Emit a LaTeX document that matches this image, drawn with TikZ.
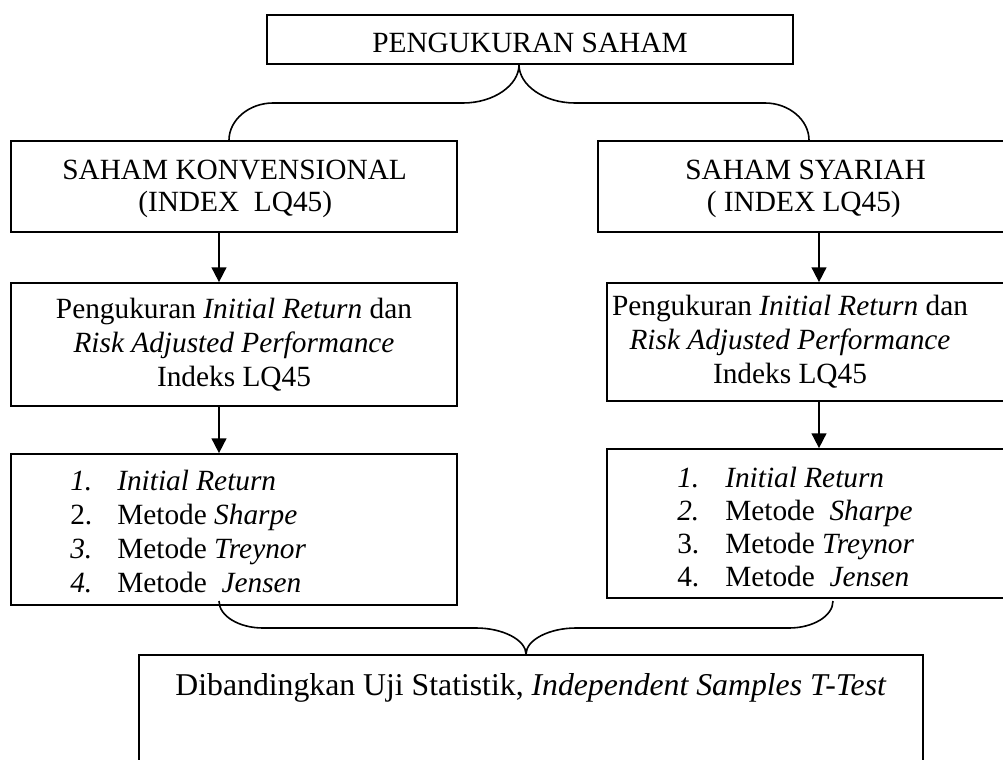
\documentclass[tikz,border=0pt]{standalone}
\usepackage{fontspec}
\setmainfont{Liberation Serif}
\usetikzlibrary{arrows.meta,fit}
\begin{document}
\begin{tikzpicture}[x=0.75pt,y=-0.75pt,
  box/.style={draw,line width=1.3pt,inner sep=0pt},
  txt/.style={font=\fontsize{22}{25.5}\selectfont,inner sep=0pt},
  bigtxt/.style={font=\fontsize{23.8}{27}\selectfont,inner sep=0pt},
  conn/.style={line width=1.2pt},
  arr/.style={line width=1.3pt,-{Triangle[width=11pt,length=11pt]}}]
\useasboundingbox (0,0) rectangle (1003,760);
\clip (0,0) rectangle (1003,760);
% boxes
\node[box,fit={(267,15)(793,64)}] (top) {};
\node[box,fit={(11,141)(457,232)}] (lb1) {};
\node[box,fit={(598,141)(1040,232)}] (rb1) {};
\node[box,fit={(11,283)(457,406)}] (lb2) {};
\node[box,fit={(607,283)(1040,401)}] (rb2) {};
\node[box,fit={(11,454)(457,605)}] (lb3) {};
\node[box,fit={(607,449)(1040,598)}] (rb3) {};
\node[box,fit={(139,655)(923,800)}] (bot) {};
% texts
\node[txt,anchor=base] (ttop) at (530,52) {PENGUKURAN SAHAM};
\node[txt,anchor=base west] (tl1a) at (62,179) {SAHAM KONVENSIONAL};
\node[txt,anchor=base west] (tl1b) at (138,211) {(INDEX\ \ LQ45)};
\node[txt,anchor=base east] (tr1a) at (926,179) {SAHAM SYARIAH};
\node[txt,anchor=base east] (tr1b) at (901,211) {( INDEX LQ45)};
\node[txt,anchor=base] (tl2a) at (234,318) {Pengukuran \textit{Initial Return} dan};
\node[txt,anchor=base] (tl2b) at (234,352) {\textit{Risk Adjusted Performance}};
\node[txt,anchor=base] (tl2c) at (234,386) {Indeks LQ45};
\node[txt,anchor=base] (tr2a) at (790,315) {Pengukuran \textit{Initial Return} dan};
\node[txt,anchor=base] (tr2b) at (790,349) {\textit{Risk Adjusted Performance}};
\node[txt,anchor=base] (tr2c) at (790,383) {Indeks LQ45};
\node[txt,anchor=base west] (l1) at (70,490) {\makebox[35.25pt][l]{\textit{1.}}\textit{Initial Return}};
\node[txt,anchor=base west] (l2) at (70,524) {\makebox[35.25pt][l]{2.}Metode \textit{Sharpe}};
\node[txt,anchor=base west] (l3) at (70,558) {\makebox[35.25pt][l]{\textit{3.}}Metode \textit{Treynor}};
\node[txt,anchor=base west] (l4) at (70,592) {\makebox[35.25pt][l]{\textit{4.}}Metode\ \ \textit{Jensen}};
\node[txt,anchor=base west] (r1) at (677,487) {\makebox[36pt][l]{\textit{1.}}\textit{Initial Return}};
\node[txt,anchor=base west] (r2) at (677,520) {\makebox[36pt][l]{\textit{2.}}Metode\ \ \textit{Sharpe}};
\node[txt,anchor=base west] (r3) at (677,553) {\makebox[36pt][l]{3.}Metode \textit{Treynor}};
\node[txt,anchor=base west] (r4) at (677,586) {\makebox[36pt][l]{4.}Metode\ \ \textit{Jensen}};
\node[bigtxt,anchor=base] (tbot) at (531,695) {Dibandingkan Uji Statistik, \textit{Independent Samples T-Test}};
% arrows
\draw[arr] (219,0 |- lb1.south) -- (219,0 |- lb2.north);
\draw[arr] (219,0 |- lb2.south) -- (219,0 |- lb3.north);
\draw[arr] (819,0 |- rb1.south) -- (819,0 |- rb2.north);
\draw[arr] (819,0 |- rb2.south) -- (819,0 |- rb3.north);
% top brace
\coordinate (tt) at (519,0 |- top.south);
\draw[conn] (229,0 |- lb1.north) .. controls (229,120) and (249,103) .. (273,103) -- (463,103)
  .. controls (494,103) and (519,85) .. (tt);
\draw[conn] (tt) .. controls (519,85) and (544,103) .. (575,103) -- (765,103)
  .. controls (789,103) and (809,120) .. (809,0 |- rb1.north);
% bottom brace
\coordinate (bl) at (219,601);
\coordinate (br) at (833,601);
\coordinate (bt) at (526,0 |- bot.north);
\draw[conn] (bl) .. controls (219,616) and (239,628) .. (263,628) -- (476,628)
  .. controls (503,628) and (526,640) .. (bt);
\draw[conn] (bt) .. controls (526,640) and (549,628) .. (576,628) -- (789,628)
  .. controls (813,628) and (833,616) .. (br);
\end{tikzpicture}
\end{document}
